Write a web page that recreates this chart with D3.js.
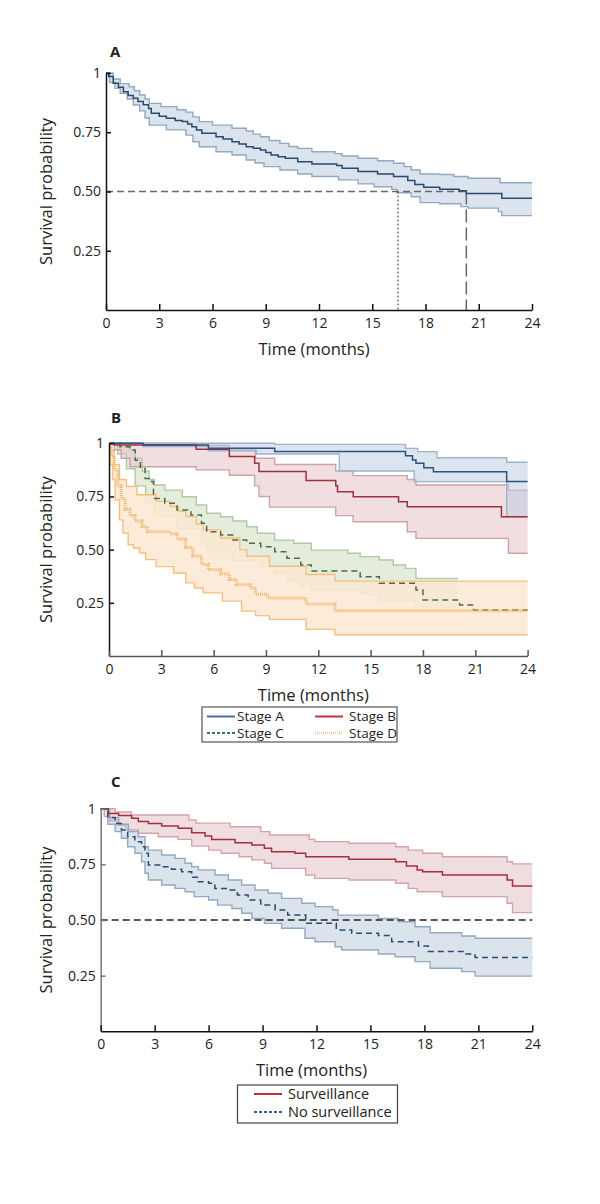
<!DOCTYPE html>
<html>
<head>
<meta charset="utf-8">
<script src="https://cdn.jsdelivr.net/npm/d3@7"></script>
<style>
body { margin: 0; background: #fff; }
svg text { font-family: "Open Sans", sans-serif; fill: #222; }
</style>
</head>
<body>
<svg id="chart" width="600" height="1204"></svg>
<script>
// ---- shared ticks ----
var xTicks = [0, 3, 6, 9, 12, 15, 18, 21, 24];
var yTicks = [0.25, 0.5, 0.75, 1];
var yTickLabels = ["0.25", "0.50", "0.75", "1"];

// ---- panel A: all patients [time (months), survival] ----
var aEst = [[0,1],[0.15,0.985],[0.41,0.957],[0.7,0.94],[0.98,0.921],[1.25,0.905],[1.54,0.893],[1.8,0.88],[2.1,0.866],[2.4,0.85],[2.55,0.83],[3.0,0.818],[3.4,0.809],[3.9,0.80],[4.3,0.795],[4.6,0.785],[4.84,0.773],[5.1,0.76],[5.4,0.746],[6.2,0.731],[6.6,0.722],[7.1,0.71],[7.5,0.70],[7.9,0.689],[8.3,0.682],[8.7,0.675],[9.0,0.665],[9.3,0.654],[9.7,0.647],[10.1,0.64],[10.8,0.626],[11.6,0.616],[13.0,0.61],[13.3,0.598],[14.2,0.584],[15.3,0.574],[16.2,0.563],[17.0,0.546],[17.4,0.530],[17.9,0.518],[18.8,0.509],[19.9,0.503],[20.3,0.492],[22.3,0.471],[24,0.471]];
var aUpper = [[0,1],[0.4,0.975],[0.8,0.955],[1.3,0.942],[1.6,0.925],[1.9,0.907],[2.2,0.89],[2.44,0.872],[3.1,0.858],[4.0,0.845],[4.5,0.835],[4.9,0.815],[5.25,0.795],[6.0,0.78],[7.1,0.767],[7.9,0.755],[8.3,0.742],[8.7,0.731],[9.2,0.715],[9.8,0.703],[10.3,0.69],[10.8,0.682],[11.6,0.668],[12.9,0.66],[13.3,0.65],[14.2,0.64],[15.3,0.63],[16.2,0.619],[16.8,0.605],[17.2,0.591],[17.7,0.574],[18.8,0.572],[19.6,0.563],[20.4,0.556],[22.2,0.537],[24,0.537]];
var aLower = [[0,1],[0.2,0.96],[0.5,0.935],[0.8,0.914],[1.2,0.89],[1.54,0.865],[1.9,0.84],[2.2,0.81],[2.44,0.78],[3.4,0.76],[4.5,0.738],[4.9,0.71],[5.25,0.689],[6.2,0.668],[7.1,0.654],[7.9,0.633],[8.4,0.62],[8.9,0.605],[9.8,0.591],[10.8,0.574],[11.6,0.563],[13.1,0.549],[14.2,0.532],[15.1,0.520],[16.1,0.509],[16.4,0.495],[17.2,0.478],[17.7,0.453],[18.8,0.448],[20.0,0.436],[20.4,0.43],[22.1,0.415],[22.3,0.398],[24,0.398]];
var aMedianLevel = 0.5;
var aLowerCross = 16.45;   // lower CI reaches 0.5
var aMedianTime = 20.3;    // estimate reaches 0.5

// ---- panel B: by stage ----
var bStages = ["Stage A", "Stage B", "Stage C", "Stage D"];
var bAEst = [[0,1],[1.95,0.992],[5.7,0.977],[9.5,0.961],[17.0,0.942],[17.4,0.921],[17.6,0.906],[18.05,0.885],[18.6,0.866],[22.8,0.82],[24,0.82]];
var bAUp  = [[0,1],[9.5,0.995],[17.0,0.976],[17.7,0.961],[18.8,0.932],[22.8,0.911],[24,0.911]];
var bALo  = [[0,1],[1.95,0.985],[5.7,0.965],[8.45,0.95],[13.2,0.87],[17.5,0.82],[22.8,0.655],[24,0.655]];
var bBEst = [[0,1],[0.3,0.992],[5.0,0.972],[6.9,0.9375],[8.35,0.906],[8.6,0.867],[11.3,0.825],[13.0,0.80],[13.1,0.772],[14.0,0.749],[16.6,0.725],[17.1,0.702],[22.5,0.655],[24,0.655]];
var bBUp  = [[0,1],[5.0,0.99],[6.9,0.975],[8.4,0.93],[9.5,0.90],[13.0,0.87],[14.0,0.848],[17.1,0.83],[17.6,0.804],[22.9,0.78],[24,0.78]];
var bBLo  = [[0,1],[0.3,0.97],[0.7,0.93],[1.2,0.89],[5.0,0.875],[6.9,0.85],[8.35,0.80],[8.6,0.75],[9.2,0.70],[13.0,0.66],[14.0,0.631],[17.1,0.584],[17.6,0.553],[22.9,0.483],[24,0.483]];
var bCEst = [[0,1],[0.63,0.984],[1.2,0.969],[1.5,0.92],[1.8,0.882],[2.07,0.835],[2.3,0.82],[2.55,0.741],[3.2,0.718],[3.9,0.686],[4.7,0.663],[5.3,0.624],[5.6,0.584],[6.4,0.569],[7.1,0.545],[7.9,0.530],[8.7,0.514],[9.5,0.49],[10.2,0.459],[11.0,0.428],[11.6,0.40],[14.4,0.373],[15.5,0.342],[17.6,0.31],[18.0,0.263],[20.1,0.24],[20.9,0.216],[24,0.216]];
var bCUp  = [[0,1],[1.2,0.969],[1.5,0.93],[1.9,0.87],[2.3,0.83],[2.6,0.804],[3.2,0.78],[4.2,0.749],[5.0,0.71],[5.6,0.671],[6.4,0.655],[7.1,0.635],[7.9,0.608],[8.5,0.577],[9.5,0.545],[10.6,0.53],[11.6,0.498],[13.7,0.483],[14.4,0.467],[15.5,0.451],[16.3,0.428],[17.0,0.412],[17.6,0.365],[20.0,0.365]];
var bCLo  = [[0,1],[0.5,0.95],[1.0,0.88],[1.5,0.80],[2.1,0.72],[2.6,0.66],[3.9,0.60],[5.3,0.52],[5.6,0.49],[7.1,0.45],[8.7,0.42],[9.5,0.39],[10.2,0.36],[11.0,0.33],[11.6,0.31],[14.4,0.29],[15.5,0.26],[17.6,0.23],[20.0,0.23]];
var bDEst = [[0,1],[0.15,0.94],[0.3,0.875],[0.5,0.80],[0.7,0.74],[0.93,0.69],[1.2,0.66],[1.5,0.635],[1.9,0.608],[2.2,0.584],[3.5,0.575],[3.9,0.55],[4.4,0.51],[4.8,0.47],[5.3,0.43],[5.7,0.405],[6.4,0.385],[6.9,0.36],[7.3,0.335],[8.1,0.32],[8.4,0.29],[9.1,0.273],[11.3,0.245],[12.95,0.213],[24,0.213]];
var bDUp  = [[0,1],[0.1,0.97],[0.3,0.9],[0.6,0.83],[1.0,0.797],[1.6,0.758],[2.7,0.727],[3.5,0.703],[4.0,0.68],[4.4,0.656],[5.0,0.62],[5.4,0.594],[6.4,0.555],[7.5,0.5],[7.9,0.469],[9.2,0.422],[11.3,0.383],[12.95,0.352],[24,0.352]];
var bDLo  = [[0,1],[0.05,0.9],[0.2,0.83],[0.35,0.734],[0.6,0.64],[0.8,0.578],[1.1,0.523],[1.4,0.508],[1.75,0.484],[2.1,0.453],[2.7,0.42],[3.7,0.39],[4.4,0.344],[4.9,0.32],[5.4,0.297],[6.5,0.258],[7.6,0.211],[8.4,0.19],[9.2,0.172],[11.3,0.125],[12.95,0.1],[24,0.1]];

// ---- panel C: surveillance ----
var cGroups = ["Surveillance", "No surveillance"];
var cSEst = [[0,1],[0.42,0.979],[1.0,0.97],[1.72,0.957],[2.09,0.942],[2.65,0.934],[3.39,0.922],[4.31,0.912],[5.06,0.892],[5.8,0.877],[6.17,0.862],[7.47,0.847],[8.4,0.837],[9.1,0.822],[9.5,0.807],[10.8,0.80],[11.4,0.784],[13.8,0.773],[16.4,0.762],[17.0,0.743],[17.6,0.725],[17.9,0.717],[19.0,0.702],[22.6,0.68],[22.9,0.653],[24,0.653]];
var cSUp  = [[0,1],[0.8,0.985],[1.7,0.972],[4.9,0.95],[5.3,0.935],[7.2,0.919],[8.9,0.897],[9.4,0.882],[11.6,0.862],[11.9,0.852],[13.8,0.845],[16.4,0.829],[17.1,0.814],[17.9,0.80],[19.0,0.784],[22.6,0.762],[22.9,0.752],[24,0.752]];
var cSLo  = [[0,1],[0.2,0.965],[0.5,0.945],[0.9,0.925],[1.4,0.904],[2.1,0.89],[3.2,0.874],[4.3,0.862],[5.06,0.832],[6.0,0.814],[6.7,0.80],[7.7,0.784],[8.4,0.77],[9.1,0.755],[9.5,0.732],[11.4,0.702],[11.9,0.687],[13.8,0.68],[16.4,0.665],[17.1,0.642],[17.6,0.627],[19.0,0.605],[22.6,0.575],[22.9,0.533],[24,0.533]];
var cNEst = [[0,1],[0.4,0.96],[0.8,0.934],[1.15,0.904],[1.5,0.874],[1.9,0.852],[2.27,0.829],[2.46,0.80],[2.65,0.747],[3.39,0.739],[3.94,0.728],[4.5,0.717],[5.06,0.692],[5.43,0.672],[6.0,0.665],[6.35,0.642],[7.1,0.635],[7.6,0.612],[8.2,0.59],[8.9,0.567],[9.7,0.545],[10.4,0.522],[11.4,0.485],[13.1,0.455],[13.96,0.44],[15.44,0.43],[16.18,0.402],[17.67,0.383],[18.22,0.358],[20.26,0.347],[20.82,0.332],[24,0.332]];
var cNUp  = [[0,1],[0.5,0.96],[1.0,0.93],[1.54,0.897],[2.09,0.874],[2.46,0.829],[2.65,0.814],[3.39,0.792],[4.13,0.777],[4.69,0.755],[5.06,0.739],[5.43,0.725],[6.36,0.702],[7.1,0.68],[7.84,0.657],[8.58,0.635],[9.32,0.62],[10.06,0.597],[11.18,0.575],[11.92,0.56],[12.9,0.545],[13.2,0.522],[15.44,0.507],[16.55,0.492],[17.48,0.47],[18.32,0.443],[20.08,0.428],[20.82,0.418],[24,0.418]];
var cNLo  = [[0,1],[0.4,0.93],[0.8,0.897],[1.15,0.867],[1.5,0.829],[1.9,0.80],[2.27,0.762],[2.46,0.71],[2.65,0.68],[3.39,0.657],[4.13,0.642],[4.69,0.627],[5.2,0.605],[6.0,0.59],[6.5,0.567],[7.3,0.552],[7.84,0.53],[8.4,0.507],[9.1,0.485],[10.06,0.463],[11.36,0.418],[11.92,0.402],[13.03,0.38],[13.4,0.365],[15.44,0.347],[16.37,0.335],[17.48,0.313],[18.32,0.283],[20.08,0.268],[20.82,0.248],[24,0.248]];
var cRefLevel = 0.5;

var svg = d3.select("#chart");

// value of a step series at time t
function stepValue(series, t) {
    var v = series[0][1];
    for (var i = 0; i < series.length; i++) {
	if (series[i][0] <= t) v = series[i][1];
    }
    return v;
}

// merge lower / upper step series on common times
function bandData(lo, hi) {
    var times = Array.from(new Set(lo.map(d => d[0]).concat(hi.map(d => d[0])))).sort((a, b) => a - b);
    return times.map(t => ({t: t, lo: stepValue(lo, t), hi: stepValue(hi, t)}));
}

function makePanel(p) {
    var g = svg.append("g");
    var x = d3.scaleLinear().domain([0, 24]).range([p.left, p.right]);
    var y = d3.scaleLinear().domain([0, 1]).range([p.bottom, p.top]);

    var area = d3.area().curve(d3.curveStepAfter)
	.x(d => x(d.t)).y0(d => y(d.lo)).y1(d => y(d.hi));
    var line = d3.line().curve(d3.curveStepAfter)
	.x(d => x(d[0])).y(d => y(d[1]));
    var loLine = d3.line().curve(d3.curveStepAfter)
	.x(d => x(d.t)).y(d => y(d.lo));
    var hiLine = d3.line().curve(d3.curveStepAfter)
	.x(d => x(d.t)).y(d => y(d.hi));

    // bands: fill then edges, series by series
    p.series.forEach(function(s) {
	var bd = bandData(s.lo, s.hi);
	g.append("path").attr("d", area(bd))
	    .attr("fill", s.fill).attr("fill-opacity", s.fillOpacity || 1);
	g.append("path").attr("d", loLine(bd)).attr("fill", "none")
	    .attr("stroke", s.edge).attr("stroke-width", 1.4);
	g.append("path").attr("d", hiLine(bd)).attr("fill", "none")
	    .attr("stroke", s.edge).attr("stroke-width", 1.4);
    });

    if (p.extra) p.extra(g, x, y);

    p.series.forEach(function(s) {
	g.append("path").attr("d", line(s.est)).attr("fill", "none")
	    .attr("stroke", s.color).attr("stroke-width", s.width || 1.5)
	    .attr("stroke-dasharray", s.dash || null);
    });

    // axes
    var yAxis = g.append("g").attr("transform", `translate(${p.left},0)`)
	.call(d3.axisLeft(y).tickValues(yTicks)
	      .tickFormat((d, i) => yTickLabels[i])
	      .tickSizeInner(-5).tickSizeOuter(0).tickPadding(5));
    yAxis.selectAll("path,line").attr("stroke", p.yAxisColor).attr("stroke-width", 1.5);
    yAxis.selectAll("text").attr("font-size", 14).attr("font-family", "Open Sans, sans-serif").attr("fill", "#333");

    var xAxis = g.append("g").attr("transform", `translate(0,${p.bottom})`)
	.call(d3.axisBottom(x).tickValues(xTicks)
	      .tickSizeInner(-6).tickSizeOuter(0).tickPadding(8));
    xAxis.selectAll("path,line").attr("stroke", p.xAxisColor).attr("stroke-width", 1.5);
    xAxis.selectAll("text").attr("font-size", 14).attr("font-family", "Open Sans, sans-serif").attr("fill", "#333");

    // titles
    g.append("text").attr("x", p.letterX).attr("y", p.letterY)
	.attr("font-weight", "bold").attr("font-size", 15).text(p.letter);
    g.append("text")
	.attr("transform", `translate(52,${(p.top + p.bottom) / 2}) rotate(-90)`)
	.attr("text-anchor", "middle").attr("font-size", 16.5).attr("fill", "#333")
	.text("Survival probability");
    g.append("text").attr("x", (p.left + p.right) / 2 - 5).attr("y", p.bottom + 45)
	.attr("text-anchor", "middle").attr("font-size", 16.5).attr("fill", "#333")
	.text("Time (months)");

    return {g: g, x: x, y: y};
}

// Panel A
makePanel({
    left: 106, right: 532, top: 73, bottom: 310,
    letter: "A", letterX: 110, letterY: 57,
    yAxisColor: "#111", xAxisColor: "#111",
    series: [{est: aEst, lo: aLower, hi: aUpper, color: "#2b4a6c",
	      fill: "#dbe3ee", edge: "#93a8c1"}],
    extra: function(g, x, y) {
	g.append("line").attr("x1", x(0)).attr("x2", x(aMedianTime))
	    .attr("y1", y(aMedianLevel)).attr("y2", y(aMedianLevel))
	    .attr("stroke", "#6a6a6a").attr("stroke-width", 1.5).attr("stroke-dasharray", "7,4");
	g.append("line").attr("x1", x(aLowerCross)).attr("x2", x(aLowerCross))
	    .attr("y1", y(aMedianLevel)).attr("y2", y(0))
	    .attr("stroke", "#555").attr("stroke-width", 1.2).attr("stroke-dasharray", "2,2");
	g.append("line").attr("x1", x(aMedianTime)).attr("x2", x(aMedianTime))
	    .attr("y1", y(aMedianLevel)).attr("y2", y(0))
	    .attr("stroke", "#666").attr("stroke-width", 1.5).attr("stroke-dasharray", "13,5");
    }
});

// Panel B
makePanel({
    left: 109, right: 527.6, top: 443.3, bottom: 656,
    letter: "B", letterX: 111, letterY: 423,
    yAxisColor: "#111", xAxisColor: "#555",
    series: [
	{est: bCEst, lo: bCLo, hi: bCUp, color: "#4d6b44", dash: "6,4",
	 fill: "#c9dab8", fillOpacity: 0.5, edge: "#b2c8a6"},
	{est: bDEst, lo: bDLo, hi: bDUp, color: "#f2b46c", dash: "1,1", width: 3,
	 fill: "#fbe8d3", fillOpacity: 0.88, edge: "#f3c07f"},
	{est: bBEst, lo: bBLo, hi: bBUp, color: "#9c3140",
	 fill: "#e2bec4", fillOpacity: 0.5, edge: "#cda3aa"},
	{est: bAEst, lo: bALo, hi: bAUp, color: "#2b5380",
	 fill: "#b9cadf", fillOpacity: 0.5, edge: "#9fb3cb"}
    ]
});

// Panel B legend
(function() {
    var lg = svg.append("g");
    lg.append("rect").attr("x", 202).attr("y", 707).attr("width", 195).attr("height", 35)
	.attr("fill", "#fff").attr("stroke", "#555").attr("stroke-width", 1.2);
    var items = [
	{x: 207, y: 716.5, color: "#4a6cb3", dash: null, w: 2},
	{x: 315, y: 716.5, color: "#c4323c", dash: null, w: 2},
	{x: 207, y: 733, color: "#2e7a5a", dash: "3,2", w: 2},
	{x: 315, y: 733, color: "#f6cfa6", dash: "1,1", w: 2.5}
    ];
    items.forEach(function(it, i) {
	lg.append("line").attr("x1", it.x).attr("x2", it.x + 28)
	    .attr("y1", it.y).attr("y2", it.y)
	    .attr("stroke", it.color).attr("stroke-width", it.w)
	    .attr("stroke-dasharray", it.dash);
	lg.append("text").attr("x", it.x + (i % 2 ? 34 : 30)).attr("y", it.y)
	    .attr("dy", "0.35em").attr("font-size", 13.5)
	    .attr("font-family", "Lato, sans-serif").attr("fill", "#222")
	    .text(bStages[i]);
    });
})();

// Panel C
makePanel({
    left: 100.7, right: 532.3, top: 808.7, bottom: 1031.3,
    letter: "C", letterX: 111, letterY: 787,
    yAxisColor: "#777", xAxisColor: "#111",
    series: [
	{est: cSEst, lo: cSLo, hi: cSUp, color: "#a2303d",
	 fill: "#e2bcc2", fillOpacity: 0.5, edge: "#d4a3aa"},
	{est: cNEst, lo: cNLo, hi: cNUp, color: "#2d4b70", dash: "6,4",
	 fill: "#b8c8dc", fillOpacity: 0.5, edge: "#93a9c2"}
    ],
    extra: function(g, x, y) {
	g.append("line").attr("x1", x(0)).attr("x2", x(24))
	    .attr("y1", y(cRefLevel)).attr("y2", y(cRefLevel))
	    .attr("stroke", "#222").attr("stroke-width", 1.3).attr("stroke-dasharray", "7,4");
    }
});

// Panel C legend
(function() {
    var lg = svg.append("g");
    lg.append("rect").attr("x", 237.5).attr("y", 1085).attr("width", 160).attr("height", 38)
	.attr("fill", "#fff").attr("stroke", "#444").attr("stroke-width", 1.2);
    var items = [
	{y: 1094, color: "#c0303a", dash: null},
	{y: 1112, color: "#3a5a9a", dash: "3,2"}
    ];
    items.forEach(function(it, i) {
	lg.append("line").attr("x1", 254).attr("x2", 282)
	    .attr("y1", it.y).attr("y2", it.y)
	    .attr("stroke", it.color).attr("stroke-width", 2)
	    .attr("stroke-dasharray", it.dash);
	lg.append("text").attr("x", 288).attr("y", it.y)
	    .attr("dy", "0.35em").attr("font-size", 14.5)
	    .attr("font-family", "Lato, sans-serif").attr("fill", "#222")
	    .text(cGroups[i]);
    });
})();
</script>
</body>
</html>
